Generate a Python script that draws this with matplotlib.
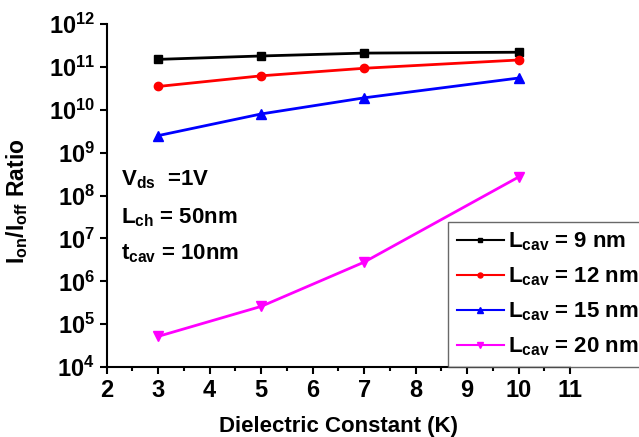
import numpy as np
import matplotlib
matplotlib.use("Agg")
import matplotlib.pyplot as plt
from matplotlib.ticker import MultipleLocator, LogLocator, NullLocator

plt.rcParams.update({
    'font.family': 'Liberation Sans',
    'font.weight': 'bold',
    'mathtext.fontset': 'custom',
    'mathtext.rm': 'Liberation Sans:bold',
    'mathtext.bf': 'Liberation Sans:bold',
    'mathtext.it': 'Liberation Sans:bold',
    'mathtext.default': 'bf',
})

k = [3, 5, 7, 10]
lcav_9 = [1.5e11, 1.8e11, 2.1e11, 2.2e11]
lcav_12 = [3.5e10, 6.2e10, 9.3e10, 1.45e11]
lcav_15 = [2.5e9, 8e9, 1.9e10, 5.5e10]
lcav_20 = [5.2e4, 2.6e5, 2.8e6, 2.7e8]

fig = plt.figure(figsize=(6.39, 4.37), dpi=100)
ax = fig.add_axes([0.167, 0.160, 0.725, 0.785])

ax.plot(k, lcav_9, '-s', color='black', lw=2, ms=6, label=r'L$_{cav}$ = 9 nm')
ax.plot(k, lcav_12, '-o', color='red', lw=2, ms=6, label=r'L$_{cav}$ = 12 nm')
ax.plot(k, lcav_15, '-^', color='blue', lw=2, ms=7, label=r'L$_{cav}$ = 15 nm')
ax.plot(k, lcav_20, '-v', color='magenta', lw=2, ms=7, label=r'L$_{cav}$ = 20 nm')

ax.set_yscale('log')
ax.set_xlim(2, 11)
ax.set_ylim(1e4, 1e12)
ax.xaxis.set_major_locator(MultipleLocator(1))
ax.xaxis.set_minor_locator(MultipleLocator(0.5))
ax.yaxis.set_major_locator(LogLocator(base=10, numticks=20))
ax.yaxis.set_minor_locator(NullLocator())

ax.spines['top'].set_visible(False)
ax.spines['right'].set_visible(False)
ax.spines['left'].set_linewidth(1.5)
ax.spines['bottom'].set_linewidth(1.5)
ax.tick_params(which='major', direction='out', length=5, width=1.5, labelsize=17)
ax.tick_params(which='minor', direction='out', length=3, width=1.5)

ax.set_xlabel('Dielectric Constant (K)', fontsize=16, fontweight='bold', labelpad=10)
ax.set_ylabel(r'I$_{on}$/I$_{off}$ Ratio', fontsize=16.5, fontweight='bold')
ax.yaxis.set_label_coords(-0.165, 0.484)

ax.text(0.03, 0.53, r'V$_{ds}$  =1V', transform=ax.transAxes, fontsize=16)
ax.text(0.03, 0.42, r'L$_{ch}$ = 50nm', transform=ax.transAxes, fontsize=16)
ax.text(0.03, 0.315, r't$_{cav}$ = 10nm', transform=ax.transAxes, fontsize=16)

leg = ax.legend(loc='upper left', bbox_to_anchor=(448 / 639, 1 - 222 / 437),
                bbox_transform=fig.transFigure, fontsize=16,
                frameon=True, fancybox=False, edgecolor='#444444', markerscale=0.6,
                handlelength=2.1, handletextpad=0.2, borderpad=0.4, labelspacing=0.55,
                borderaxespad=0)
leg.get_frame().set_linewidth(1.0)
for line in leg.get_lines():
    line.set_linewidth(1.5)

fig.savefig('out.png', dpi=100)
